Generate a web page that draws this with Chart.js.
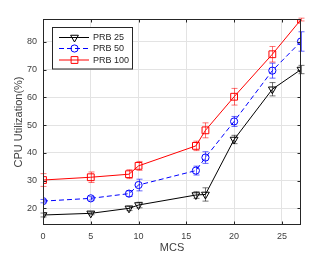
<!DOCTYPE html>
<html><head><meta charset="utf-8">
<script src="https://cdn.jsdelivr.net/npm/chart.js@4/dist/chart.umd.min.js"></script>
<style>html,body{margin:0;padding:0;background:#fff;}#wrap{width:332px;height:257px;}</style>
</head><body><div id="wrap"><canvas id="c" width="332" height="257"></canvas></div>
<script>
const mcs = [0, 5, 9, 10, 16, 17, 20, 24, 27];
const prb25 = [17.6, 18.2, 20.0, 21.2, 24.8, 25.0, 44.8, 62.9, 70.0];
const prb50 = [22.6, 23.6, 25.3, 28.4, 33.6, 38.3, 51.3, 69.6, 80.1];
const prb100 = [30.2, 31.2, 32.3, 35.3, 42.5, 48.1, 60.2, 75.5, 88.0];
const err25 = [0.7, 0.5, 0.8, 1.0, 1.2, 2.4, 1.5, 2.4, 1.5];
const err50 = [0.6, 0.6, 1.0, 2.1, 1.6, 2.1, 1.8, 2.7, 3.5];
const err100 = [2.3, 1.9, 1.6, 1.6, 1.7, 2.7, 3.0, 2.8, 0.5];
const xTicks = [0, 5, 10, 15, 20, 25];
const yTicks = [20, 30, 40, 50, 60, 70, 80];
const seriesNames = ['PRB 25', 'PRB 50', 'PRB 100'];

const FONT = 'Liberation Sans, Arial, Helvetica, sans-serif';
const AX = '#262626';

function pts(ys){ return mcs.map((x,i)=>({x:x, y:ys[i]})); }

const datasets = [
  {label: seriesNames[0], data: pts(prb25), errs: err25, borderColor:'#000', errColor:'rgba(0,0,0,0.55)',
   pointStyle:'triangle', rotation:180, pointRadius:4.5, borderDash:[]},
  {label: seriesNames[1], data: pts(prb50), errs: err50, borderColor:'#0000ff', errColor:'rgba(0,0,255,0.6)',
   pointStyle:'circle', rotation:0, pointRadius:3.6, borderDash:[5,3]},
  {label: seriesNames[2], data: pts(prb100), errs: err100, borderColor:'#ff0000', errColor:'rgba(255,0,0,0.55)',
   pointStyle:'rect', rotation:0, pointRadius:4.8, borderDash:[]}
].map(d => Object.assign(d, {
  backgroundColor:'rgba(0,0,0,0)', pointBackgroundColor:'rgba(0,0,0,0)', pointBorderColor:d.borderColor,
  pointRotation:d.rotation, pointBorderWidth:1, borderWidth:1, tension:0, fill:false,
  pointHoverRadius:d.pointRadius
}));

const errorBars = {
  id:'errorBars',
  beforeDatasetsDraw(chart){
    const ctx = chart.ctx, xs = chart.scales.x, ys = chart.scales.y;
    chart.data.datasets.forEach(ds => {
      ctx.save();
      ctx.strokeStyle = ds.errColor; ctx.lineWidth = 1;
      ds.data.forEach((p,i) => {
        const e = ds.errs[i];
        const px = Math.round(xs.getPixelForValue(p.x)) + 0.5;
        const y1 = ys.getPixelForValue(p.y - e), y2 = ys.getPixelForValue(p.y + e);
        ctx.beginPath();
        ctx.moveTo(px, y1); ctx.lineTo(px, y2);
        ctx.moveTo(px-3, y1); ctx.lineTo(px+3, y1);
        ctx.moveTo(px-3, y2); ctx.lineTo(px+3, y2);
        ctx.stroke();
      });
      ctx.restore();
    });
  }
};

const frame = {
  id:'frame',
  afterDraw(chart){
    const ctx = chart.ctx, a = chart.chartArea, xs = chart.scales.x, ys = chart.scales.y;
    ctx.save();
    ctx.strokeStyle = AX; ctx.lineWidth = 1;
    const L = Math.round(a.left)+0.5, R = Math.round(a.right)-0.5, T = Math.round(a.top)+0.5, B = Math.round(a.bottom)-0.5;
    ctx.strokeRect(L, T, R-L, B-T);
    ctx.beginPath();
    const tl = 3;
    xTicks.forEach(v => { const px = Math.round(xs.getPixelForValue(v))+0.5;
      ctx.moveTo(px, B); ctx.lineTo(px, B-tl); ctx.moveTo(px, T); ctx.lineTo(px, T+tl); });
    yTicks.forEach(v => { const py = Math.round(ys.getPixelForValue(v))+0.5;
      ctx.moveTo(L, py); ctx.lineTo(L+tl, py); ctx.moveTo(R, py); ctx.lineTo(R-tl, py); });
    ctx.stroke();

    // legend
    const bx = 52.5, by = 27.5, bw = 80, bh = 41.5;
    ctx.fillStyle = '#fff'; ctx.fillRect(bx, by, bw, bh);
    ctx.strokeStyle = AX; ctx.strokeRect(bx, by, bw, bh);
    const rows = [37.5, 48.5, 60];
    chart.data.datasets.forEach((ds,i) => {
      const y = rows[i];
      ctx.save();
      ctx.strokeStyle = ds.borderColor; ctx.lineWidth = 1;
      ctx.setLineDash(ds.borderDash);
      ctx.beginPath(); ctx.moveTo(59, y); ctx.lineTo(89, y); ctx.stroke();
      ctx.setLineDash([]);
      ctx.fillStyle = 'rgba(0,0,0,0)';
      Chart.helpers.drawPoint(ctx, {pointStyle: ds.pointStyle, rotation: ds.rotation, radius: ds.pointRadius, borderWidth:1}, 74.5, y);
      ctx.restore();
      ctx.fillStyle = AX; ctx.font = '9px ' + FONT; ctx.textBaseline = 'middle'; ctx.textAlign = 'left';
      ctx.fillText(ds.label, 93, y + 0.5);
    });
    ctx.restore();
  }
};

new Chart(document.getElementById('c'), {
  type:'line',
  data:{datasets},
  plugins:[errorBars, frame],
  options:{
    responsive:false, animation:false, events:[],
    layout:{padding:{top:19, right:31, left:0, bottom:0}},
    plugins:{legend:{display:false}, tooltip:{enabled:false}},
    scales:{
      x:{type:'linear', min:0, max:27,
        afterBuildTicks(s){ s.ticks = xTicks.map(v=>({value:v})); },
        afterFit(s){ s.height = 32; },
        grid:{color:'#e3e3e3', drawTicks:false, lineWidth:1},
        border:{display:false},
        ticks:{padding:6, color:'#404040', font:{family:FONT, size:9}, maxRotation:0, autoSkip:false},
        title:{display:true, text:'MCS', color:'#404040', font:{family:FONT, size:11}, padding:{top:0, bottom:2}}
      },
      y:{type:'linear', min:14, max:88.2,
        afterBuildTicks(s){ s.ticks = yTicks.map(v=>({value:v})); },
        afterFit(s){ s.width = 43; },
        grid:{color:'#e3e3e3', drawTicks:false, lineWidth:1},
        border:{display:false},
        ticks:{padding:6, color:'#404040', font:{family:FONT, size:9}},
        title:{display:true, text:'CPU Utilization(%)', color:'#404040', font:{family:FONT, size:11}, padding:{top:12, bottom:0}}
      }
    }
  }
});
</script></body></html>
